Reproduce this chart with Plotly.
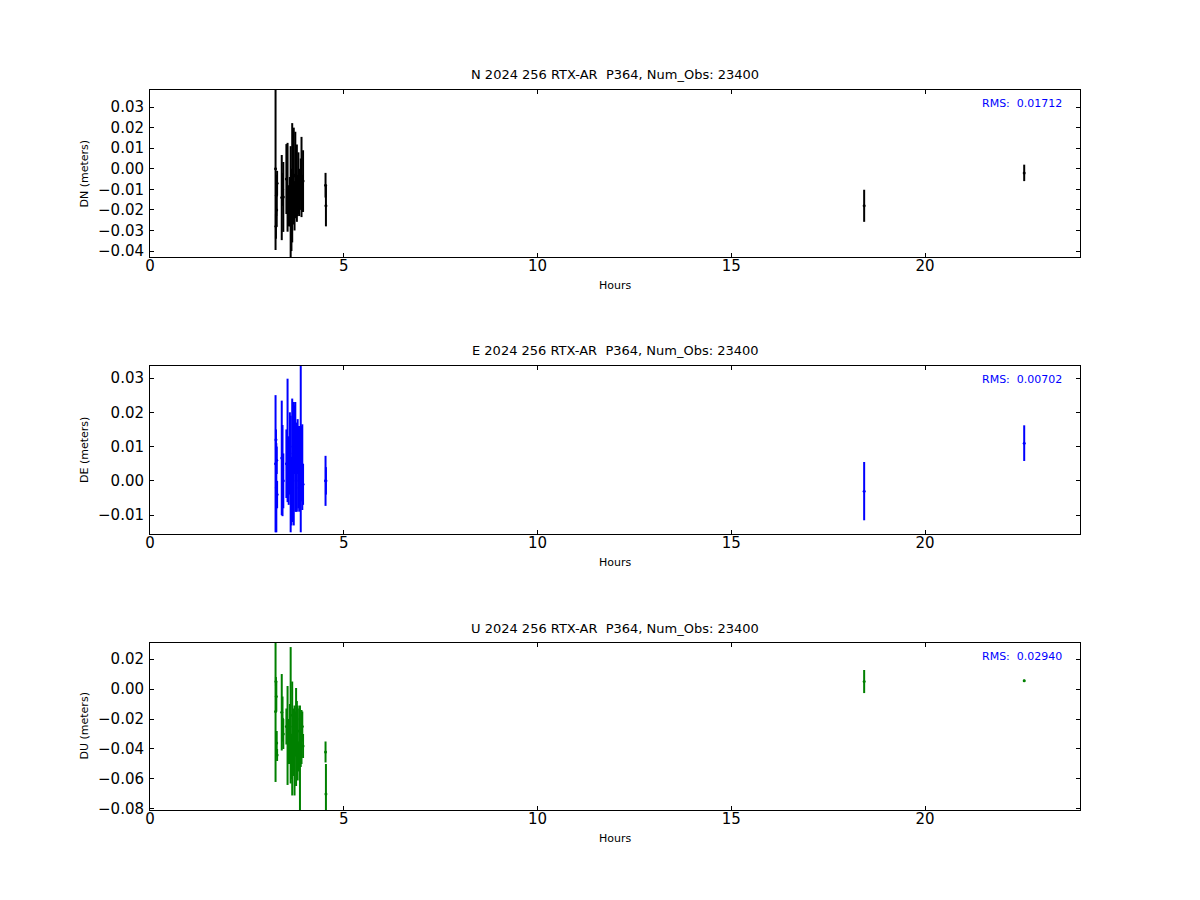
import plotly.graph_objects as go

# ---------------- data ----------------
hours = [3.24, 3.25, 3.26, 3.27, 3.28, 3.40, 3.42, 3.44, 3.52, 3.55, 3.58, 3.61,
         3.63, 3.65, 3.67, 3.69, 3.71, 3.73, 3.75, 3.77, 3.79, 3.81, 3.83, 3.85,
         3.87, 3.89, 3.91, 3.93, 3.95, 4.53, 4.54, 18.43, 22.56]

dn_vals = [0.000, -0.028, -0.013, -0.020, -0.007, -0.014, -0.010, -0.0137, -0.005, -0.009, -0.018, -0.016,
           -0.016, -0.020, -0.0068, -0.012, -0.0035, -0.018, -0.003, -0.010, -0.007, -0.013, -0.007, -0.015,
           -0.010, -0.005, -0.004, -0.012, -0.006, -0.008, -0.018, -0.018, -0.002]
dn_err = [0.0395, 0.006, 0.010, 0.008, 0.006, 0.0207, 0.008, 0.017, 0.017, 0.0216, 0.010, 0.012,
          0.027, 0.020, 0.029, 0.015, 0.0235, 0.012, 0.021, 0.014, 0.0188, 0.010, 0.015, 0.008,
          0.010, 0.010, 0.0195, 0.009, 0.015, 0.006, 0.010, 0.0078, 0.004]

de_vals = [0.005, 0.012, -0.002, 0.006, -0.004, 0.0067, 0.003, 0.000, 0.005, 0.0118, 0.003, 0.008,
           0.002, -0.003, 0.006, 0.010, 0.005, 0.012, 0.007, 0.000, 0.004, 0.010, 0.004, -0.002,
           0.006, 0.0095, 0.005, 0.004, -0.001, 0.000, 0.000, -0.003, 0.011]
de_err = [0.020, 0.003, 0.013, 0.004, 0.004, 0.0167, 0.0133, 0.008, 0.010, 0.018, 0.010, 0.012,
          0.017, 0.010, 0.018, 0.012, 0.018, 0.010, 0.016, 0.009, 0.013, 0.008, 0.012, 0.007,
          0.010, 0.0245, 0.011, 0.0125, 0.006, 0.0073, 0.004, 0.0085, 0.0052]

du_vals = [-0.015, 0.005, -0.005, -0.036, -0.044, -0.0155, -0.020, -0.030, -0.025, -0.031, -0.035, -0.030,
           -0.0175, -0.045, -0.033, -0.025, -0.040, -0.041, -0.030, -0.032, -0.020, -0.036, -0.045, -0.028,
           -0.046, -0.040, -0.032, -0.025, -0.038, -0.042, -0.070, 0.005, 0.0055]
du_err = [0.047, 0.003, 0.010, 0.008, 0.004, 0.0255, 0.015, 0.010, 0.012, 0.033, 0.015, 0.020,
          0.0455, 0.015, 0.038, 0.012, 0.018, 0.030, 0.015, 0.0327, 0.012, 0.025, 0.010, 0.015,
          0.035, 0.012, 0.018, 0.010, 0.008, 0.007, 0.020, 0.0077, 0.0008]

components = ["N", "E", "U"]
ylabels = ["DN (meters)", "DE (meters)", "DU (meters)"]
rms_texts = ["0.01712", "0.00702", "0.02940"]
title_suffix = " 2024 256 RTX-AR  P364, Num_Obs: 23400"
colors = ["black", "blue", "green"]
yranges = [[-0.0429, 0.0383], [-0.0155, 0.0335], [-0.0807, 0.0307]]
ydticks = [0.01, 0.01, 0.02]
series = [(dn_vals, dn_err), (de_vals, de_err), (du_vals, du_err)]

# ---------------- layout geometry (window pixels) ----------------
OFF = 8                     # default page body margin
W, H = 1200 - 2 * OFF, 900 - 2 * OFF
x_left, x_right = 150, 1080
panels_px = [(90, 257), (366, 534), (643, 810)]

def px(v):
    return (v - OFF) / W

def py(v):
    return 1 - (v - OFF) / H

FONT = "DejaVu Sans"
fig = go.Figure()
annotations = []

for i in range(3):
    top, bot = panels_px[i]
    xa = "x" if i == 0 else f"x{i+1}"
    ya = "y" if i == 0 else f"y{i+1}"
    vals, errs = series[i]
    fig.add_trace(go.Scatter(
        x=hours, y=vals, mode="markers", xaxis=xa, yaxis=ya,
        marker=dict(color=colors[i], size=3),
        error_y=dict(type="data", array=errs, visible=True, thickness=2,
                     width=0, color=colors[i]),
        showlegend=False, hoverinfo="skip",
    ))
    axis_common = dict(
        showline=True, linecolor="black", linewidth=1, mirror="allticks",
        ticks="inside", ticklen=4, tickcolor="black", tickwidth=1,
        showgrid=False, zeroline=False, automargin=False,
        tickfont=dict(family=FONT, size=15, color="black"),
    )
    xkey = "xaxis" if i == 0 else f"xaxis{i+1}"
    ykey = "yaxis" if i == 0 else f"yaxis{i+1}"
    fig.update_layout(**{
        xkey: dict(axis_common, domain=[px(x_left), px(x_right)], range=[0, 24],
                   tick0=0, dtick=5, anchor=ya, ticklabelstandoff=-5),
        ykey: dict(axis_common, domain=[py(bot), py(top)], range=yranges[i],
                   tick0=0, dtick=ydticks[i], tickformat=".2f", anchor=xa,
                   ticklabelstandoff=2),
    })
    cx = px((x_left + x_right) / 2)
    annotations += [
        dict(text=components[i] + title_suffix, x=cx, y=py(top - 15), xref="paper", yref="paper",
             showarrow=False, xanchor="center", yanchor="middle",
             font=dict(family=FONT, size=13, color="black")),
        dict(text="Hours", x=cx, y=py(bot + 28), xref="paper", yref="paper",
             showarrow=False, xanchor="center", yanchor="middle",
             font=dict(family=FONT, size=11, color="black")),
        dict(text=ylabels[i], x=px(84), y=py((top + bot) / 2), xref="paper", yref="paper",
             showarrow=False, xanchor="center", yanchor="middle", textangle=-90,
             font=dict(family=FONT, size=11, color="black")),
        dict(text="RMS:\u00a0 " + rms_texts[i], x=px(1064), y=py(top + 13), xref="paper", yref="paper",
             showarrow=False, xanchor="right", yanchor="middle",
             font=dict(family=FONT, size=11, color="blue")),
    ]

fig.update_layout(
    template="none",
    width=W, height=H, autosize=False,
    margin=dict(l=0, r=0, t=0, b=0, pad=0),
    paper_bgcolor="white", plot_bgcolor="white",
    annotations=annotations,
    font=dict(family=FONT),
)

fig.write_html("out.html")
